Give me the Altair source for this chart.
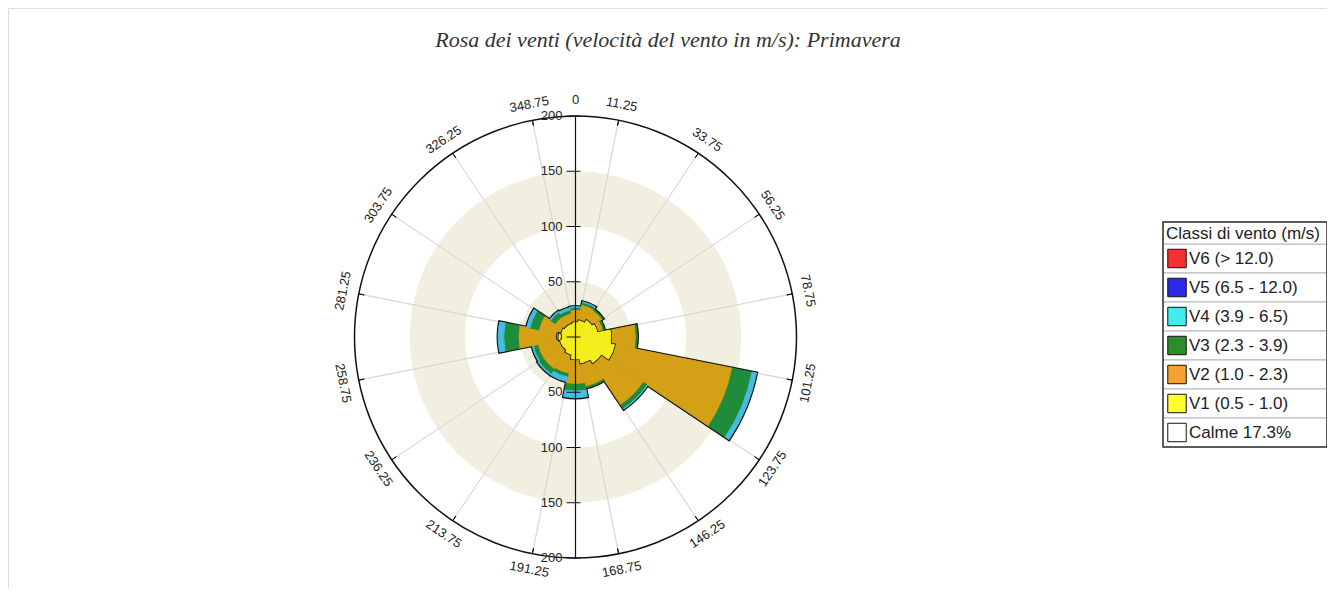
import altair as alt
import pandas as pd
import numpy as np

title_text = "Rosa dei venti (velocità del vento in m/s): Primavera"

# 16 direction sectors (centre bearing, degrees)
directions = [0.0, 22.5, 45.0, 67.5, 90.0, 112.5, 135.0, 157.5,
              180.0, 202.5, 225.0, 247.5, 270.0, 292.5, 315.0, 337.5]
sector_width = 22.5

classes = ["V1", "V2", "V3", "V4", "V5", "V6"]
v1 = [13, 15, 18, 20, 32, 36, 28, 24, 20, 16, 14, 14, 15, 13, 12, 12]
v2 = [12, 15, 11, 6, 23, 109, 46, 22, 23, 18, 21, 21, 37, 21, 10, 10]
v3 = [2, 2, 1, 1, 1, 18, 4, 1, 6, 3, 5, 4, 13, 8, 5, 3]
v4 = [0.5, 0.5, 0, 0, 0, 4, 0.5, 0, 6, 4, 1, 1, 5, 3, 1, 2]
v5 = [0, 0, 0, 0, 0, 0, 0, 0, 0, 0, 0, 0, 0, 0, 0, 0]
v6 = [0, 0, 0, 0, 0, 0, 0, 0, 0, 0, 0, 0, 0, 0, 0, 0]
series = [v1, v2, v3, v4, v5, v6]

chart_colors = ["#f4ee1c", "#d3a016", "#1f8c3b", "#45bde0", "#2525e0", "#f02a2a"]

legend_title = "Classi di vento (m/s)"
legend_labels = ["V6 (> 12.0)", "V5 (6.5 - 12.0)", "V4 (3.9 - 6.5)", "V3 (2.3 - 3.9)",
                 "V2 (1.0 - 2.3)", "V1 (0.5 - 1.0)", "Calme 17.3%"]
legend_colors = ["#f53030", "#2a2ae8", "#40ecec", "#2a8f2a", "#f5a232", "#ffff30", "#ffffff"]

spoke_angles = [11.25, 33.75, 56.25, 78.75, 101.25, 123.75, 146.25, 168.75,
                191.25, 213.75, 236.25, 258.75, 281.25, 303.75, 326.25, 348.75]
angle_labels = ["0", "11.25", "33.75", "56.25", "78.75", "101.25", "123.75", "146.25",
                "168.75", "191.25", "213.75", "236.25", "258.75", "281.25", "303.75",
                "326.25", "348.75"]
radial_ticks = [200, 150, 100, 50, 0, -50, -100, -150, -200]
band_inner = [0, 100]
band_outer = [50, 150]
r_max = 200

# ---------------- layout constants ----------------
CX, CY = 567.5, 329
R_PX = 221
LABEL_R = 214.5

theta_scale = alt.Scale(domain=[0, 360], range=[0, 2 * np.pi])
radius_scale = alt.Scale(type="linear", domain=[0, r_max], range=[0, R_PX], zero=True, nice=False)


def polar(t1="t1", t2="t2", r1="r1", r2="r2"):
    enc = dict(
        theta=alt.Theta(f"{t1}:Q", scale=theta_scale, stack=False),
        theta2=alt.Theta2(f"{t2}:Q"),
        radius=alt.Radius(f"{r1}:Q", scale=radius_scale, stack=False),
        x=alt.value(CX), y=alt.value(CY),
    )
    if r2 is not None:
        enc["radius2"] = alt.Radius2(f"{r2}:Q")
    return enc


# ---------------- data frames ----------------
bands_df = pd.DataFrame({"t1": [0, 0], "t2": [360, 360], "r1": band_outer, "r2": band_inner})
spokes_df = pd.DataFrame({"t1": spoke_angles, "t2": spoke_angles,
                          "r1": [r_max] * len(spoke_angles), "r2": [0] * len(spoke_angles)})
rim_ticks_df = pd.DataFrame({"t1": spoke_angles, "t2": spoke_angles,
                             "r1": [r_max] * len(spoke_angles), "r2": [r_max - 5] * len(spoke_angles)})
axis_df = pd.DataFrame({"t1": [0, 180], "t2": [0, 180], "r1": [r_max, r_max], "r2": [0, 0]})
circle_df = pd.DataFrame({"t1": [0], "t2": [360], "r1": [r_max]})

rows = []
tot_rows = []
for i, d in enumerate(directions):
    cum = 0.0
    for k, cls in enumerate(classes):
        val = series[k][i]
        if val > 0:
            rows.append({"dir": d, "cls": cls, "t1": d - sector_width / 2, "t2": d + sector_width / 2,
                         "r2": cum, "r1": cum + val})
        cum += val
    tot_rows.append({"dir": d, "t1": d - sector_width / 2, "t2": d + sector_width / 2, "r1": cum, "r2": 0})
rose_df = pd.DataFrame(rows)
total_df = pd.DataFrame(tot_rows)
upper_df = rose_df[rose_df["cls"] != "V1"]
yellow_df = rose_df[rose_df["cls"] == "V1"]

lab_angles = [0.0] + spoke_angles
rot = [a if (a <= 90 or a >= 270) else (a + 180) % 360 for a in lab_angles]
labels_df = pd.DataFrame({"t": lab_angles, "r": [LABEL_R] * len(lab_angles),
                          "txt": angle_labels, "rot": rot})

rad_df = pd.DataFrame({"v": radial_ticks, "lab": [str(abs(v)) for v in radial_ticks]})
y_rad = alt.Scale(domain=[-r_max, r_max], range=[CY + R_PX, CY - R_PX], nice=False, zero=False)

color_scale = alt.Scale(domain=classes, range=chart_colors)

# ---------------- polar layers ----------------
bands = alt.Chart(bands_df).mark_arc(fill="#f1efdf", strokeWidth=0).encode(**polar())
spokes = alt.Chart(spokes_df).mark_arc(filled=False, stroke="#d9d9d9", strokeWidth=1).encode(**polar())
circle = alt.Chart(circle_df).mark_arc(filled=False, stroke="#111111", strokeWidth=1.5).encode(**polar(r2=None))
rim_ticks = alt.Chart(rim_ticks_df).mark_arc(filled=False, stroke="#111111", strokeWidth=1).encode(**polar())

outline = alt.Chart(total_df).mark_arc(fill="#111111", stroke="#111111", strokeWidth=3.2).encode(**polar())
fills = alt.Chart(upper_df).mark_arc(strokeWidth=1).encode(
    fill=alt.Fill("cls:N", scale=color_scale, legend=None),
    stroke=alt.Stroke("cls:N", scale=color_scale, legend=None),
    **polar())
yellow_outline = alt.Chart(yellow_df).mark_arc(fill="#111111", stroke="#111111", strokeWidth=2.4).encode(**polar())
yellow_fill = alt.Chart(yellow_df).mark_arc(fill=chart_colors[0], stroke=chart_colors[0], strokeWidth=1).encode(**polar())

axis_line = alt.Chart(axis_df).mark_arc(filled=False, stroke="#111111", strokeWidth=1.2).encode(**polar())

spoke_labels = alt.Chart(labels_df).mark_text(
    font="Liberation Sans", fontSize=13, color="#222222", align="center", baseline="middle"
).encode(
    theta=alt.Theta("t:Q", scale=theta_scale, stack=False),
    radius=alt.Radius("r:Q", scale=radius_scale, stack=False),
    angle=alt.Angle("rot:Q", scale=alt.Scale(domain=[0, 360], range=[0, 360])),
    text="txt:N",
    x=alt.value(CX), y=alt.value(CY),
)

rad_ticks = alt.Chart(rad_df).mark_rule(color="#111111", strokeWidth=1).encode(
    y=alt.Y("v:Q", scale=y_rad, axis=None),
    x=alt.value(CX - 9), x2=alt.value(CX + 5),
)
rad_labels = alt.Chart(rad_df).mark_text(
    font="Liberation Sans", fontSize=13, color="#222222", align="right", baseline="middle"
).encode(
    y=alt.Y("v:Q", scale=y_rad, axis=None),
    x=alt.value(CX - 13),
    text="lab:N",
)

title = alt.Chart(pd.DataFrame({"t": [title_text]})).mark_text(
    font="Liberation Serif", fontStyle="italic", fontSize=22, color="#333333",
    align="center", baseline="middle"
).encode(text="t:N", x=alt.value(660), y=alt.value(32))

# ---------------- legend ----------------
LX0, LX1 = 1155, 1319
LY0, LYH, LY1 = 214, 236, 439
leg_df = pd.DataFrame({"label": legend_labels, "color": legend_colors})
leg_y = alt.Y("label:N", sort=legend_labels, axis=None,
              scale=alt.Scale(domain=legend_labels, range=[LYH, LY1], paddingInner=0, paddingOuter=0))
leg_fill = alt.Scale(domain=legend_labels, range=legend_colors)

leg_rows = alt.Chart(leg_df).mark_rect(fill="white", stroke="#b5b5b5", strokeWidth=1).encode(
    y=leg_y, x=alt.value(LX0), x2=alt.value(LX1))
leg_swatch = alt.Chart(leg_df).mark_square(size=340, stroke="#111111", strokeWidth=1, opacity=1).encode(
    y=leg_y, x=alt.value(LX0 + 14), fill=alt.Fill("label:N", scale=leg_fill, legend=None))
leg_text = alt.Chart(leg_df).mark_text(
    font="Liberation Sans", fontSize=17, color="#222222", align="left", baseline="middle"
).encode(y=leg_y, x=alt.value(LX0 + 26), text="label:N")

box_df = pd.DataFrame({"t": [legend_title]})
leg_head = alt.Chart(box_df).mark_rect(fill="white", stroke="#b5b5b5", strokeWidth=1).encode(
    x=alt.value(LX0), x2=alt.value(LX1), y=alt.value(LY0), y2=alt.value(LYH))
leg_head_text = alt.Chart(box_df).mark_text(
    font="Liberation Sans", fontSize=17, color="#222222", align="left", baseline="middle"
).encode(text="t:N", x=alt.value(LX0 + 3), y=alt.value((LY0 + LYH) / 2 + 1))
leg_box = alt.Chart(box_df).mark_rect(filled=False, stroke="#333333", strokeWidth=1.5).encode(
    x=alt.value(LX0), x2=alt.value(LX1), y=alt.value(LY0), y2=alt.value(LY1))

chart = alt.layer(
    bands, spokes, circle, rim_ticks,
    outline, fills, yellow_outline, yellow_fill,
    axis_line, spoke_labels, rad_ticks, rad_labels, title,
    leg_rows, leg_head, leg_swatch, leg_text, leg_head_text, leg_box,
).resolve_scale(y="independent", fill="independent", stroke="independent").properties(
    width=1319, height=580, padding=0,
    autosize=alt.AutoSizeParams(type="none"),
).configure_view(stroke="#444444", strokeWidth=2).configure(background="white")

chart.save("out.html", embed_options={"renderer": "svg", "actions": False})
